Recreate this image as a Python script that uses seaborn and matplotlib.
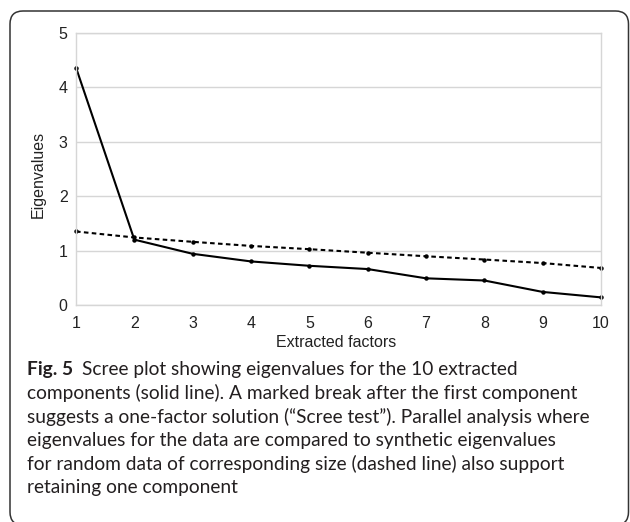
"""Scree plot with parallel analysis, plus figure caption."""

import matplotlib
matplotlib.use("Agg")
import matplotlib.pyplot as plt
from matplotlib.patches import FancyBboxPatch
import seaborn as sns
import pandas as pd

# Data
factors = [1, 2, 3, 4, 5, 6, 7, 8, 9, 10]
eigenvalues = [4.36, 1.20, 0.94, 0.80, 0.72, 0.66, 0.49, 0.45, 0.24, 0.14]
parallel = [1.35, 1.24, 1.16, 1.085, 1.025, 0.96, 0.895, 0.835, 0.77, 0.68]
y_ticks = [0, 1, 2, 3, 4, 5]

caption_lines = [
    "Scree plot showing eigenvalues for the 10 extracted",
    "components (solid line). A marked break after the first component",
    "suggests a one-factor solution (\u201cScree test\u201d). Parallel analysis where",
    "eigenvalues for the data are compared to synthetic eigenvalues",
    "for random data of corresponding size (dashed line) also support",
    "retaining one component",
]

df = pd.DataFrame({"factor": factors, "eigen": eigenvalues, "parallel": parallel})

sns.set_style("white")
plt.rcParams["font.family"] = ["Liberation Sans", "DejaVu Sans"]

W, H = 630, 522
fig = plt.figure(figsize=(W / 100, H / 100), dpi=100)
ax = fig.add_axes([76 / W, 1 - 305 / H, (601 - 76) / W, (305 - 32.7) / H])

line_kw = dict(color="black", linewidth=1.5, marker="o", markersize=3.2,
               markeredgewidth=0, clip_on=False)
sns.lineplot(data=df, x="factor", y="eigen", ax=ax, **line_kw)
sns.lineplot(data=df, x="factor", y="parallel", ax=ax,
             linestyle=(0, (2.2, 1.6)), **line_kw)

ax.set_xlim(1, 10)
ax.set_ylim(0, 5)
ax.set_xticks(factors)
ax.set_yticks(y_ticks)
ax.grid(axis="y", color="#d6d6d6", linewidth=1)
ax.set_axisbelow(True)
for side in ["left", "right", "top", "bottom"]:
    ax.spines[side].set_color("#d6d6d6")
    ax.spines[side].set_linewidth(1)
ax.tick_params(axis="both", length=3, width=1, color="#c8c8c8",
               labelsize=11.5, labelcolor="#222222")
ax.tick_params(axis="x", pad=5)
ax.tick_params(axis="y", pad=3)

ax.set_xlabel("Extracted factors", fontsize=11.5, color="#222222")
ax.set_ylabel("Eigenvalues", fontsize=11.5, color="#222222")
ax.xaxis.set_label_coords(0.495, -0.112)
ax.xaxis.label.set_va("top")
ax.yaxis.set_label_coords(-0.058, 0.48)

# Caption
cap_font = ["Lato", "DejaVu Sans"]
cap_color = "#231f20"
cap_size = 13.8
x0 = 27 / W
baselines = [375, 399, 423, 446, 470, 493]
fig_txt = fig.text(x0, 1 - baselines[0] / H, "Fig. 5", fontsize=cap_size,
                   fontweight="bold", family=cap_font, color=cap_color,
                   va="baseline")
fig.canvas.draw()
bb = fig_txt.get_window_extent()
fig.text((bb.x1 + 9) / W, 1 - baselines[0] / H, caption_lines[0],
         fontsize=cap_size, family=cap_font, color=cap_color, va="baseline")
for line, yb in zip(caption_lines[1:], baselines[1:]):
    fig.text(x0, 1 - yb / H, line, fontsize=cap_size, family=cap_font,
             color=cap_color, va="baseline")

# Rounded frame around the whole figure (bottom edge runs off the image)
frame = FancyBboxPatch((0.10, -0.03), 6.185, 5.14,
                       boxstyle="round,pad=0,rounding_size=0.13",
                       transform=fig.dpi_scale_trans, fill=False,
                       edgecolor="#333333", linewidth=1.1)
fig.patches.append(frame)

fig.savefig("out.png", dpi=100)
